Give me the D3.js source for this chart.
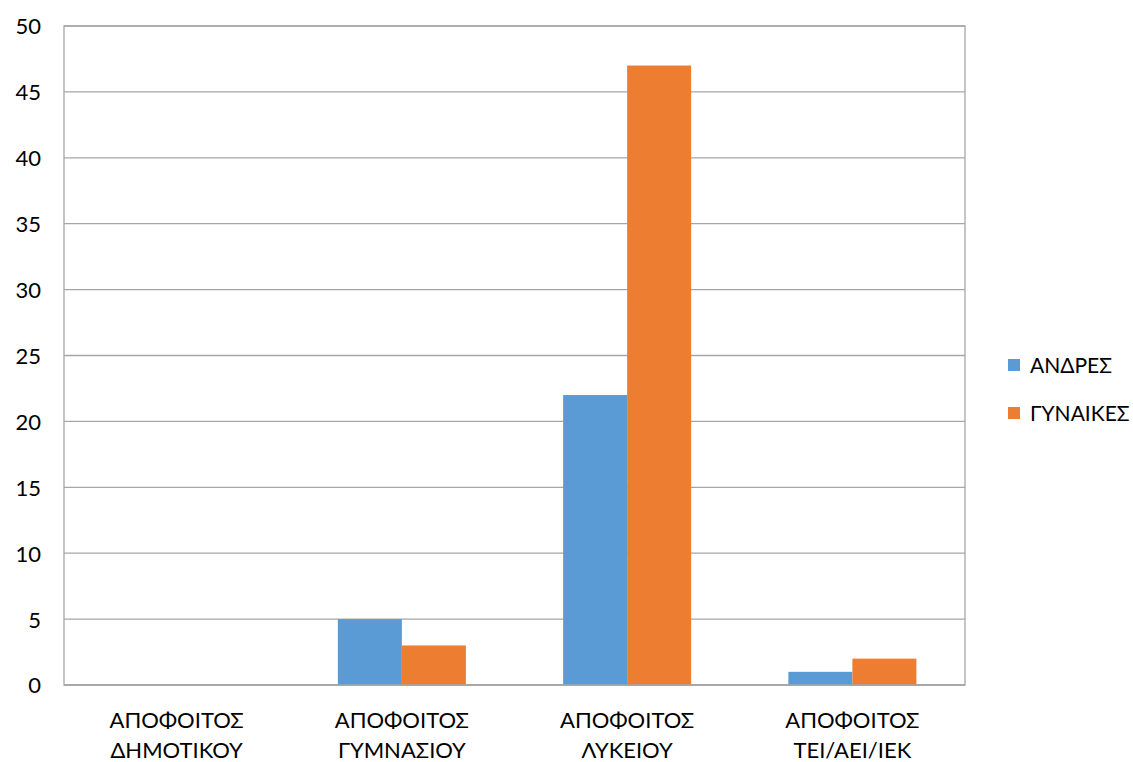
<!DOCTYPE html>
<html><head><meta charset="utf-8">
<script src="https://cdn.jsdelivr.net/npm/d3@7"></script>
<style>body{margin:0;background:#fff}svg{display:block}text{font-family:Lato,"Open Sans",sans-serif;fill:#000}</style>
</head><body><svg id="c" width="1133" height="762"></svg>
<script>
const categories = [["ΑΠΟΦΟΙΤΟΣ","ΔΗΜΟΤΙΚΟΥ"],["ΑΠΟΦΟΙΤΟΣ","ΓΥΜΝΑΣΙΟΥ"],["ΑΠΟΦΟΙΤΟΣ","ΛΥΚΕΙΟΥ"],["ΑΠΟΦΟΙΤΟΣ","ΤΕΙ/ΑΕΙ/ΙΕΚ"]];
const seriesNames = ["ΑΝΔΡΕΣ","ΓΥΝΑΙΚΕΣ"];
const andres = [0,5,22,1];
const gynaikes = [0,3,47,2];
const yTicks = [0,5,10,15,20,25,30,35,40,45,50];
const colors = ["#5B9BD5","#ED7D31"];

const svg = d3.select("#c");
const L=64,R=965,T=26,B=685;
const x = d3.scaleBand().domain(d3.range(categories.length)).range([L,R]);
const y = d3.scaleLinear().domain([0,50]).range([B,T]);
const barW = 64;
const xs = d3.scaleBand().domain([0,1]).range([0,barW*2]);

svg.append("g").selectAll("line").data(yTicks).join("line")
  .attr("x1",L).attr("x2",R).attr("y1",d=>y(d)).attr("y2",d=>y(d))
  .attr("stroke","#a6a6a6").attr("stroke-width",1.3);
svg.append("rect").attr("x",L).attr("y",T).attr("width",R-L).attr("height",B-T)
  .attr("fill","none").attr("stroke","#a6a6a6").attr("stroke-width",1.3);

const data = [andres,gynaikes];
data.forEach((vals,si)=>{
  svg.append("g").selectAll("rect").data(vals).join("rect")
    .attr("x",(d,i)=>x(i)+x.bandwidth()/2-barW+xs(si))
    .attr("width",barW)
    .attr("y",d=>y(d)).attr("height",d=>B-y(d))
    .attr("fill",colors[si]);
});
svg.append("line").attr("x1",L).attr("x2",R).attr("y1",B).attr("y2",B).attr("stroke","#a6a6a6").attr("stroke-width",1.5);

const ya = svg.append("g").attr("transform",`translate(${L},0)`).call(d3.axisLeft(y).tickValues(yTicks).tickSize(0).tickPadding(23));
ya.select(".domain").remove();
ya.selectAll("text").style("font-size","22px").attr("dy","0.36em")
  .style("font-family","Lato,'Open Sans',sans-serif");

const xa = svg.append("g").attr("transform",`translate(0,${B})`).call(d3.axisBottom(x).tickSize(0).tickFormat(""));
xa.select(".domain").remove();
categories.forEach((lines,i)=>{
  const t = svg.append("text").attr("x",x(i)+x.bandwidth()/2).attr("y",728)
    .attr("text-anchor","middle").style("font-size","22px");
  lines.forEach((l,j)=>t.append("tspan").attr("x",x(i)+x.bandwidth()/2).attr("dy",j?30:0).text(l));
});

const lg = svg.append("g");
seriesNames.forEach((n,i)=>{
  lg.append("rect").attr("x",1008).attr("y",359+i*48).attr("width",12).attr("height",12).attr("fill",colors[i]);
  lg.append("text").attr("x",1030).attr("y",365+i*48).attr("dy","0.36em").style("font-size","21px").text(n);
});
</script></body></html>
